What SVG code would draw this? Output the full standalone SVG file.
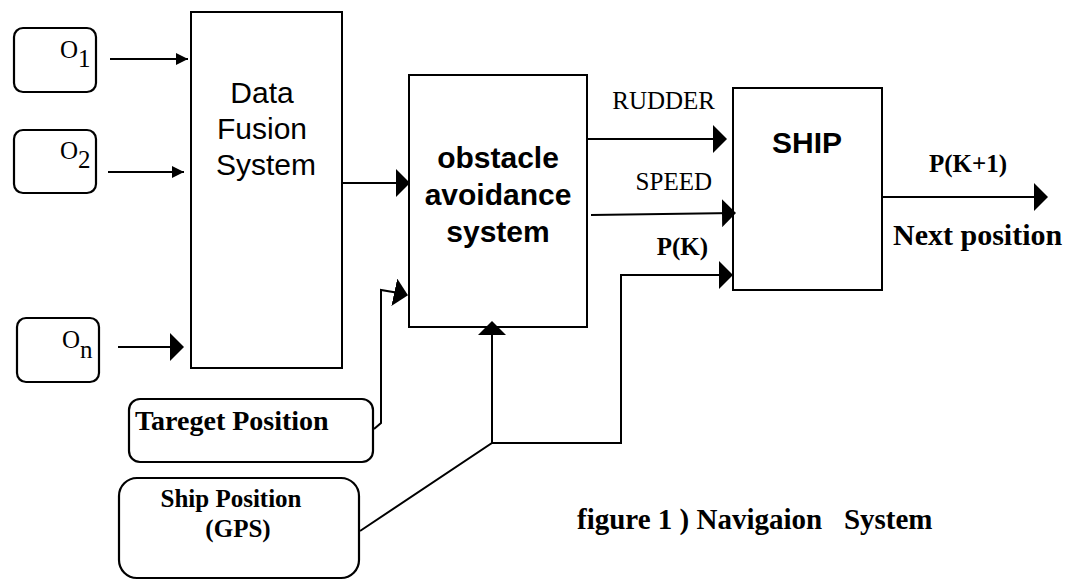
<svg xmlns="http://www.w3.org/2000/svg" width="1085" height="581" viewBox="0 0 1085 581">
<style>
.box{fill:#fff;stroke:#000;stroke-width:2}
.rbox{fill:#fff;stroke:#000;stroke-width:2.2}
.ln{fill:none;stroke:#000;stroke-width:2}
.sans{font-family:"Liberation Sans",Arial,sans-serif;font-size:30px;fill:#000}
.sansb{font-family:"Liberation Sans",Arial,sans-serif;font-size:30px;font-weight:bold;fill:#000}
.serif{font-family:"Liberation Serif","Times New Roman",serif;fill:#000}
.bold{font-weight:bold}
</style>
<defs>
<marker id="big" markerUnits="userSpaceOnUse" markerWidth="14" markerHeight="28" viewBox="0 0 14 28" refX="13" refY="14" orient="auto">
<path d="M0,0 L14,14 L0,28 z" fill="#000"/>
</marker>
<marker id="small" markerUnits="userSpaceOnUse" markerWidth="12" markerHeight="12" viewBox="0 0 12 12" refX="12" refY="6" orient="auto">
<path d="M0,0 L12,6 L0,12 z" fill="#000"/>
</marker>
</defs>

<g id="o1">
<rect class="rbox" x="14" y="28" width="82" height="64" rx="9"/>
<text class="serif" x="60" y="58" font-size="25">O<tspan dy="9">1</tspan></text>
</g>
<g id="o2">
<rect class="rbox" x="14" y="130" width="82" height="63" rx="9"/>
<text class="serif" x="60" y="159" font-size="25">O<tspan dy="9">2</tspan></text>
</g>
<g id="on">
<rect class="rbox" x="17" y="318" width="82" height="64" rx="9"/>
<text class="serif" x="62" y="348" font-size="25">O<tspan dy="10">n</tspan></text>
</g>
<g id="data-fusion">
<rect class="box" x="191" y="12" width="151" height="356"/>
<text class="sans" text-anchor="middle" x="262" y="103">Data</text>
<text class="sans" text-anchor="middle" x="262" y="139">Fusion</text>
<text class="sans" text-anchor="middle" x="266" y="175">System</text>
</g>
<g id="obstacle-avoidance">
<rect class="box" x="409" y="75" width="178" height="252"/>
<text class="sansb" text-anchor="middle" x="498" y="168">obstacle</text>
<text class="sansb" text-anchor="middle" x="498" y="205">avoidance</text>
<text class="sansb" text-anchor="middle" x="498" y="242">system</text>
</g>
<g id="ship">
<rect class="box" x="733" y="88" width="149" height="202"/>
<text class="sansb" text-anchor="middle" x="807" y="153">SHIP</text>
</g>
<g id="target-position">
<rect class="rbox" x="129" y="399" width="244" height="63" rx="11"/>
<text class="serif bold" x="135" y="430" font-size="28">Tareget Position</text>
</g>
<g id="ship-position">
<rect class="rbox" x="119" y="478" width="240" height="100" rx="18"/>
<text class="serif bold" text-anchor="middle" x="231" y="507" font-size="25">Ship Position</text>
<text class="serif bold" text-anchor="middle" x="238" y="537" font-size="25">(GPS)</text>
</g>

<g id="connectors">
<line class="ln" x1="110" y1="59" x2="188" y2="59" marker-end="url(#small)"/>
<line class="ln" x1="108" y1="172" x2="184" y2="172" marker-end="url(#small)"/>
<line class="ln" x1="118" y1="347" x2="183" y2="347" marker-end="url(#big)"/>
<line class="ln" x1="342" y1="183" x2="409" y2="183" marker-end="url(#big)"/>
<path class="ln" d="M374,429 L381,423 L381,290 L393,292 L407,295" marker-end="url(#big)"/>
<line class="ln" x1="588" y1="139" x2="726" y2="139" marker-end="url(#big)"/>
<line class="ln" x1="591" y1="215" x2="735" y2="213" marker-end="url(#big)"/>
<path class="ln" d="M360,531 L492,443 L621,443 L621,275 L732,275" marker-end="url(#big)"/>
<line class="ln" x1="492" y1="443" x2="492" y2="322" marker-end="url(#big)"/>
<line class="ln" x1="882" y1="197" x2="1047" y2="197" marker-end="url(#big)"/>
</g>

<g id="labels">
<text class="serif" text-anchor="end" x="715" y="109" font-size="25">RUDDER</text>
<text class="serif" text-anchor="end" x="712" y="190" font-size="25">SPEED</text>
<text class="serif bold" text-anchor="end" x="708" y="255" font-size="25">P(K)</text>
<text class="serif bold" text-anchor="middle" x="968" y="172" font-size="25">P(K+1)</text>
<text class="serif bold" x="893" y="245" font-size="30">Next position</text>
<text class="serif bold" x="577" y="529" font-size="29" xml:space="preserve">figure 1 ) Navigaion   System</text>
</g>
</svg>
